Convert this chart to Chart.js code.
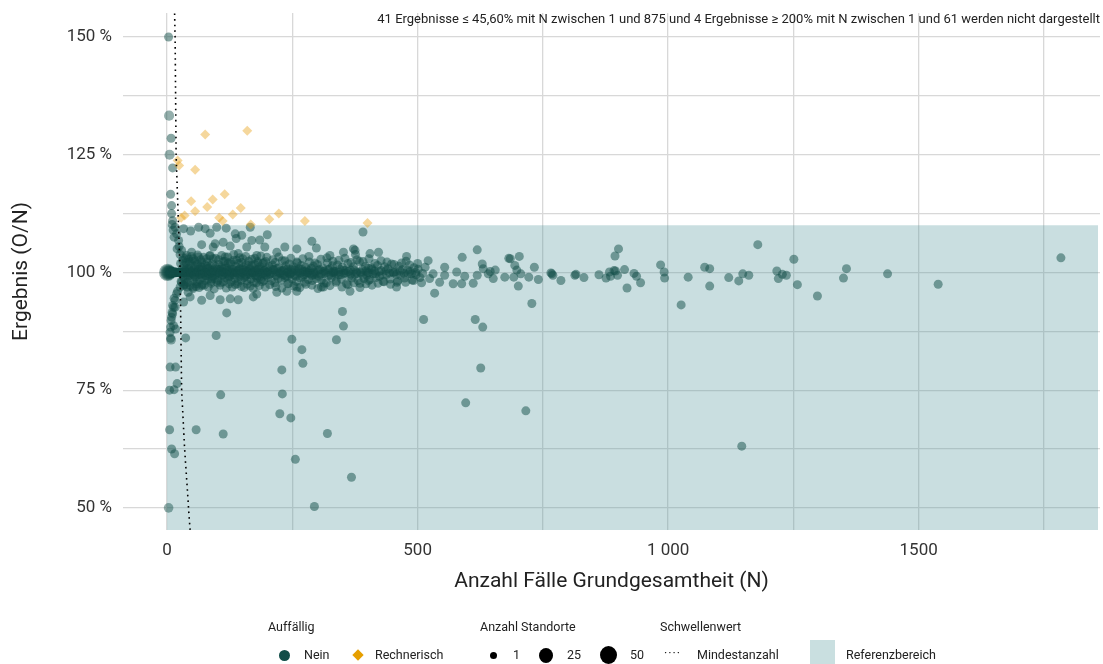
<!DOCTYPE html>
<html>
<head>
<meta charset="utf-8">
<script src="https://cdn.jsdelivr.net/npm/chart.js@4.4.1/dist/chart.umd.min.js"></script>
<style>
  body { margin: 0; background: #fff; }
  #wrap { position: relative; width: 1103px; height: 664px; font-family: Roboto, sans-serif; color: #222; }
  #wrap canvas { position: absolute; left: 0; top: 0; }
  .lg { position: absolute; font-size: 12.5px; line-height: 16px; white-space: nowrap; }
  .key { position: absolute; }
</style>
</head>
<body>
<div id="wrap">
  <canvas id="scatterChart" width="1103" height="664"></canvas>
  <div class="lg" style="left:268px; top:619px;">Auffällig</div>
  <div class="lg" style="left:480px; top:619px;">Anzahl Standorte</div>
  <div class="lg" style="left:660px; top:619px;">Schwellenwert</div>

  <div class="key" style="left:279px; top:650px; width:11px; height:11px; border-radius:50%; background:#114d48;"></div>
  <div class="lg" style="left:304px; top:647px;">Nein</div>
  <div class="key" style="left:354px; top:651px; width:8px; height:8px; background:#e69f00; transform:rotate(45deg);"></div>
  <div class="lg" style="left:375px; top:647px;">Rechnerisch</div>

  <div class="key" style="left:490px; top:652px; width:7px; height:7px; border-radius:50%; background:#000;"></div>
  <div class="lg" style="left:513px; top:647px;">1</div>
  <div class="key" style="left:539px; top:648px; width:14px; height:15px; border-radius:50%; background:#000;"></div>
  <div class="lg" style="left:567px; top:647px;">25</div>
  <div class="key" style="left:600px; top:646px; width:17px; height:18px; border-radius:50%; background:#000;"></div>
  <div class="lg" style="left:630px; top:647px;">50</div>

  <div class="lg" style="left:664px; top:645px; letter-spacing:1px;">····</div>
  <div class="lg" style="left:697px; top:647px;">Mindestanzahl</div>
  <div class="key" style="left:810px; top:640px; width:25px; height:24px; background:#c9dfe0;"></div>
  <div class="lg" style="left:846px; top:647px;">Referenzbereich</div>
</div>
<script>
var FONT = "Roboto, sans-serif";

// Referenzbereich: bis 110 %
var refN = [0, 1858];
var refMax = [110, 110];

// Mindestanzahl (Schwellenwert)
var mindestN = [15, 16, 18, 26, 29, 35, 41, 44, 46];
var mindestVal = [155, 150, 125, 100, 75, 62.5, 53, 48, 45.3];

// Standorte mit mehreren Standorten (N, Ergebnis, Anzahl Standorte)
var bigN = [1, 2, 3, 4, 5, 6, 7, 8, 9, 10, 11, 12, 13, 14, 15, 16, 17, 18, 19, 20, 4, 5, 3, 8];
var bigVal = [100, 100, 100, 100, 100, 100, 100, 100, 100, 100, 100, 100, 100, 100, 100, 100, 100, 100, 100, 100, 133.3, 125, 50, 85.7];
var bigStandorte = [38, 30, 24, 20, 16, 13, 11, 9, 8, 7, 6, 5, 5, 4, 4, 3, 3, 3, 2, 2, 6, 6, 4, 4];

// einzelne Standorte ausserhalb des dichten Bandes
var outlierPoints = [
  [3,150],[8,128.5],[11,122.2],[7,116.6],[9,114.2],[9,112.5],[11,111],[391,108.6],
  [119,91.4],[98,86.6],[37,86.1],[350,91.7],[352,88.6],[338,85.7],[249,85.8],[269,83.6],[271,80.7],
  [229,79.3],[230,74.2],[225,70.0],[247,69.1],[512,90.0],[615,90.0],[630,88.4],[626,79.7],[596,72.3],
  [716,70.6],[728,93.4],[107,74.0],[58,66.6],[112,65.7],[5,66.6],[320,65.8],[256,60.3],[368,56.5],
  [294,50.3],[9,62.5],[15,61.5],[6,79.9],[17,79.9],[5,75],[14,75.1],[20,76.4],[1147,63.1],
  [8,89.8],[11,91.2],[13,88.7],[6,87.3],[17,88],[16,92.6],
  [63,109.6],[76,109.3],[99,109.6],[118,109.4],[47,108.8],[33,109.3],[86,108.3],[136,108.2],[149,107.9],
  [166,109.6],[200,108],[185,106.9],[169,106.8],[138,107.2],[112,106.4],[96,106.1],[69,105.9],[92,105.4],
  [126,105.6],[159,105.4],[195,105.4],[235,105.4],[259,105],[289,106.6],[298,105.2],[219,104.3],[352,104.3],
  [372,105],[49,104.3],[142,104],[179,103.6],[325,103.6],[405,104],[422,104.3],[478,103.4],[63,103.3],
  [86,103.6],[116,103.3],[375,104.7],[376,103.8],
  [16,109.6],[19,108.2],[23,106.8],[24,105.5],[29,104.7],[39,103.6],[52,102.9],[69,102.2],[10,110.2],
  [12,109],[14,107.5],[20,105],[26,103.8],[33,103],[45,102.2],[60,101.7],[80,101.3],
  [33,93.7],[46,94.8],[69,94.1],[86,95.1],[106,94.2],[126,94.4],[142,94.2],[172,94.8],[179,95.4],
  [219,95.8],[239,96],[259,96.9],[312,96.9],[365,96],[385,97.7],[402,98.3],[534,95.6],[308,96.9],
  [259,96],[458,96.9],
  [29,97.9],[26,96.9],[19,95.5],[16,94.1],[13,92.6],[9,90.5],[7,88.4],[7,86],[42,95.8],[52,96.9],
  [69,97.2],[33,97.2],[10,91.5],[11,93],[14,94.5],[21,96],[36,97.5],[60,98.1],[90,98.6],
  [521,102.5],[531,99.7],[524,98.7],[544,97.9],[554,101.1],[554,99.4],[571,97.6],[578,100.1],[588,97.6],
  [589,103.2],[594,99.2],[611,97.7],[619,104.8],[619,99.4],[629,101.8],[631,100.8],[641,99.7],[645,100.2],
  [651,98.7],[655,100.5],[674,99],[682,103],[685,102.9],[694,101.5],[698,100.5],[703,103.4],[692,99],
  [701,97.1],[706,99.7],[722,99],[733,101.1],[741,98.5],[766,99.9],[768,99.7],[770,99.4],[786,98.3],
  [814,99.4],[816,99.6],[832,98.9],[862,99.5],[876,98.8],[883,100.1],[885,99.2],[892,100.4],[895,100.3],
  [899,99.4],[894,103.5],[901,105],[913,100.6],[918,96.7],[932,99.8],[937,99.2],[945,97.8],[985,101.6],
  [992,100.1],[993,98.8],
  [1026,93.1],[1040,99],[1073,101.1],[1083,100.8],[1083,97.1],[1121,98.9],[1141,98.2],[1149,99.7],
  [1161,99.4],[1179,105.9],[1217,100.3],[1220,98.7],[1228,99.6],[1236,99.4],[1251,102.8],[1258,97.4],
  [1298,95],[1350,98.8],[1356,100.8],[1438,99.7],[1539,97.5],[1784,103.1]
];

// dichtes Band um 100 %
var bandPoints = [
  [30,100.8],[32,99.1],[34,101.5],[35,98.6],[37,100.3],[38,102.1],[40,99.4],[41,97.9],[43,100.9],[44,101.8],
  [46,98.8],[47,100.2],[49,99.6],[50,102.4],[52,98.2],[53,100.6],[55,101.3],[56,99.0],[58,100.1],[59,97.6],
  [61,101.9],[62,99.5],[64,100.7],[65,98.4],[67,102.7],[68,99.8],[70,101.1],[71,98.9],[73,100.4],[74,97.3],
  [76,101.6],[77,99.3],[79,100.0],[80,102.2],[82,98.6],[83,100.9],[85,99.7],[86,101.4],[88,98.1],[89,100.5],
  [91,99.2],[92,102.9],[94,100.2],[95,98.7],[97,101.2],[98,99.6],[100,100.8],
  [101,98.3],[103,101.7],[104,99.9],[106,100.6],[107,97.8],[109,101.0],[110,99.4],[112,102.3],[113,100.1],
  [115,98.9],[116,101.5],[118,99.7],[119,100.9],[121,98.5],[122,102.0],[124,100.3],[125,99.1],[127,101.8],
  [128,98.0],[130,100.7],[131,99.5],[133,102.6],[134,100.0],[136,98.7],[137,101.3],[139,99.9],[140,97.6],
  [142,100.4],[143,101.9],[145,99.2],[146,100.8],[148,98.4],[149,102.1],[151,99.8],[152,101.1],[154,98.9],
  [155,100.5],[157,99.4],[158,101.6],[160,98.2],[161,100.2],[163,102.4],[164,99.6],[166,100.9],[167,98.6],
  [169,101.4],[170,99.9],[172,100.3],[173,97.9],[175,101.7],[176,99.3],[178,100.6],[179,98.8],[181,102.0],
  [182,100.1],[184,99.0],[185,101.2],[187,98.5],[188,100.7],[190,99.7],[191,101.9],[193,98.3],[194,100.4],
  [196,99.5],[197,102.3],[199,100.0],
  [201,98.9],[203,101.3],[205,99.6],[206,100.8],[208,98.2],[210,101.6],[211,99.9],[213,100.5],[215,97.8],
  [216,102.1],[218,99.3],[220,100.9],[222,98.7],[223,101.0],[225,99.8],[227,100.3],[228,98.4],[230,102.5],
  [232,99.5],[234,100.7],[235,98.9],[237,101.4],[239,99.2],[241,100.1],[243,97.7],[244,101.8],[246,99.7],
  [248,100.6],[250,98.6],[252,101.2],[254,99.4],[256,100.4],[258,98.1],[260,102.0],[262,99.9],[264,100.8],
  [266,98.8],[268,101.5],[270,99.1],[272,100.2],[274,97.9],[276,101.1],[278,99.6],[280,100.5],[282,98.5],
  [284,102.2],[286,99.8],[288,100.9],[290,98.3],[292,101.3],[294,99.5],[296,100.0],[298,98.7],
  [300,101.7],[303,99.2],[305,100.6],[308,98.4],[310,101.0],[313,99.7],[315,100.3],[318,97.8],[320,102.0],
  [323,99.4],[325,100.8],[328,98.9],[330,101.4],[333,99.9],[335,100.2],[338,98.2],[340,101.6],[343,99.5],
  [345,100.7],[348,98.6],[350,101.1],[353,99.8],[356,100.4],[358,97.6],[361,101.9],[364,99.3],[366,100.5],
  [369,98.8],[372,101.2],[375,99.6],[378,100.1],[381,98.3],[384,102.3],[387,99.9],[390,100.6],[393,98.7],
  [396,101.3],[399,99.4],[402,100.9],[405,98.5],[408,101.0],[411,99.7],[414,100.3],[417,98.9],
  [420,101.5],[424,99.2],[427,100.4],[431,98.1],[434,101.2],[438,99.6],[441,100.8],[445,98.6],[448,101.8],
  [452,99.9],[455,100.1],[459,97.9],[463,101.3],[466,99.4],[470,100.6],[474,98.8],[477,102.4],[481,99.7],
  [485,100.2],[489,98.4],[493,101.0],[497,99.5],[501,100.7],[505,98.9],[510,99.8],[515,101.1],
  [21,100],[22,100],[23,100],[24,100],[25,100],[26,100],[27,100],[28,100],[29,100],[31,100],[33,100],
  [36,100],[39,100],[42,100],[45,100],[48,100],[54,100],[60,100],[75,100],[90,100],[110,100],[130,100],
  [150,100],[170,100],[200,100],[240,100],[280,100],[330,100],[400,100],
  [31,99.7],[36,100.4],[39,100.9],[42,99.2],[45,100.5],[48,99.8],[51,100.3],[54,99.4],[57,100.7],[60,99.9],
  [63,100.2],[66,99.5],[69,100.6],[72,99.8],[75,100.1],[78,99.3],[81,100.8],[84,99.6],[87,100.3],[90,99.9],
  [93,100.5],[96,99.4],[99,100.0],[102,100.6],[105,99.7],[108,100.2],[111,99.5],[114,100.8],[117,99.9],
  [120,100.4],[123,99.3],[126,100.1],[129,99.8],[132,100.6],[135,99.4],[138,100.3],[141,99.9],[144,100.7],
  [147,99.6],[150,100.0],[153,100.5],[156,99.2],[159,100.2],[162,99.8],[165,100.6],[168,99.5],[171,100.1],
  [174,99.9],[177,100.4],[180,99.3],[183,100.7],[186,99.7],[189,100.2],[192,99.9],[195,100.5],[198,99.4],
  [202,100.3],[207,99.8],[212,100.6],[217,99.5],[221,100.1],[226,99.9],[231,100.4],[236,99.3],[240,100.7],
  [245,99.6],[249,100.0],[253,100.5],[257,99.2],[261,100.3],[265,99.8],[269,100.6],[273,99.5],[277,100.2],
  [281,99.9],[285,100.4],[289,99.4],[293,100.1],[297,99.7],[302,100.5],[307,99.6],[312,100.2],[317,99.9],
  [322,100.6],[327,99.4],[332,100.3],[337,99.8],[342,100.1],[347,99.5],[352,100.4],[357,99.9],[362,100.2],
  [367,99.6],[373,100.5],[379,99.8],[385,100.1],[391,99.4],[397,100.3],[403,99.9],[409,100.6],[416,99.7],
  [423,100.2],[430,99.5],[437,100.4],[444,99.9],[451,100.1],[458,99.6],[465,100.3],[473,99.8],[480,100.5],
  [488,99.7],[496,100.0]
];

// breiterer Saum des Bandes
var bandEdgePoints = [
  [27,101.9],[28,98.1],[31,102.6],[34,97.4],[37,103.1],[40,96.9],[43,102.8],[46,97.2],[49,103.4],[52,96.6],
  [55,102.5],[58,97.0],[61,103.7],[64,96.8],[67,101.4],[70,97.5],[73,103.2],[76,98.3],[79,102.9],[82,96.9],
  [85,103.5],[88,97.7],[91,101.8],[94,96.5],[97,103.0],[100,97.9],[103,102.7],[106,97.3],[109,103.6],[112,98.0],
  [115,102.4],[118,96.7],[121,103.3],[124,97.6],[127,102.2],[130,96.9],[133,103.8],[136,97.4],[139,102.6],[142,98.1],
  [145,103.1],[148,97.0],[151,102.9],[154,96.8],[157,103.4],[160,97.5],[163,101.6],[166,97.1],[169,102.8],[172,96.6],
  [175,103.0],[178,97.8],[181,102.3],[184,97.2],[187,103.5],[190,98.0],[193,102.1],[196,96.9],[199,103.2],[205,97.4],
  [211,102.7],[217,97.0],[223,103.3],[229,96.7],[235,102.5],[241,97.6],[247,103.0],[253,97.1],[259,102.2],[265,96.8],
  [271,102.9],[277,97.5],[283,103.4],[289,97.3],[295,102.0],[301,96.6],[307,102.8],[313,97.7],[319,103.1],[325,97.2],
  [331,102.4],[337,97.9],[343,102.6],[349,96.9],[355,103.0],[361,97.4],[367,102.1],[373,97.8],[379,102.7],[385,96.8],
  [391,102.3],[397,97.6],[403,102.9],[409,97.3],[415,101.9],[421,97.7],[427,102.5],[433,98.0],[439,102.2],[446,97.5],
  [453,101.7],[460,98.2],[468,102.0],[476,97.9],[484,101.6],[492,98.3],[500,101.9],[508,97.8]
];

// Rechnerisch auffällig
var rechnerischN = [76, 160, 21, 24, 56, 48, 91, 115, 56, 80, 147, 35, 28, 104, 111, 131, 167, 204, 223, 275, 400];
var rechnerischVal = [129.3, 130.1, 123.8, 122.7, 121.8, 115.1, 115.5, 116.6, 113.0, 113.9, 113.7, 112.1, 111.6, 111.6, 110.9, 112.3, 110.2, 111.3, 112.5, 110.9, 110.5];

// Achsen
var xTicks = [0, 250, 500, 750, 1000, 1250, 1500, 1750];
var xTickLabels = {0: "0", 500: "500", 1000: "1 000", 1500: "1500"};
var yTicks = [50, 62.5, 75, 87.5, 100, 112.5, 125, 137.5, 150];
var yTickLabels = {50: "50 %", 75: "75 %", 100: "100 %", 125: "125 %", 150: "150 %"};
var hinweis = "41 Ergebnisse ≤ 45,60% mit N zwischen 1 und 875 und 4 Ergebnisse ≥ 200% mit N zwischen 1 und 61 werden nicht dargestellt";

function pairsToXY(list) {
  return list.map(function (p) { return {x: p[0], y: p[1]}; });
}
function zip(xs, ys) {
  return xs.map(function (x, i) { return {x: x, y: ys[i]}; });
}

var neinData = pairsToXY(bandPoints).concat(pairsToXY(bandEdgePoints), pairsToXY(outlierPoints));
var bigData = zip(bigN, bigVal);

var hinweisPlugin = {
  id: "hinweis",
  afterDatasetsDraw: function (chart) {
    var ctx = chart.ctx;
    ctx.save();
    ctx.font = "13px " + FONT;
    ctx.fillStyle = "#222";
    ctx.textAlign = "right";
    ctx.textBaseline = "middle";
    ctx.fillText(hinweis, chart.chartArea.right, 20);
    ctx.restore();
  }
};

var canvasElement = document.getElementById("scatterChart");
var config = {
  type: "scatter",
  data: {
    datasets: [
      {
        label: "Nein (mehrere Standorte)",
        data: bigData,
        backgroundColor: "rgba(17,77,72,0.45)",
        borderWidth: 0,
        pointRadius: function (c) { return 4.5 + 0.11 * (bigStandorte[c.dataIndex] - 1); },
        order: 3
      },
      {
        label: "Nein",
        data: neinData,
        backgroundColor: "rgba(17,77,72,0.5)",
        borderWidth: 0,
        pointRadius: 4.5,
        order: 2
      },
      {
        label: "Rechnerisch",
        data: zip(rechnerischN, rechnerischVal),
        pointStyle: "rectRot",
        backgroundColor: "rgba(232,160,20,0.42)",
        borderWidth: 0,
        pointRadius: 5,
        order: 1
      },
      {
        type: "line",
        label: "Mindestanzahl",
        data: zip(mindestN, mindestVal),
        borderColor: "#000",
        borderWidth: 1.6,
        borderDash: [1.6, 4],
        pointRadius: 0,
        fill: false,
        order: 0
      },
      {
        type: "line",
        label: "Referenzbereich",
        data: zip(refN, refMax),
        borderWidth: 0,
        pointRadius: 0,
        fill: "start",
        backgroundColor: "rgba(75,145,152,0.3)",
        order: 10
      }
    ]
  },
  options: {
    responsive: false,
    animation: false,
    layout: {autoPadding: false, padding: {left: 0, right: 3, top: 13, bottom: 64}},
    plugins: {legend: {display: false}, tooltip: {enabled: false}},
    scales: {
      x: {
        type: "linear",
        min: -88,
        max: 1862,
        border: {display: false},
        grid: {color: "#d8d8d8", lineWidth: 1.3, drawTicks: false},
        afterBuildTicks: function (s) { s.ticks = xTicks.map(function (v) { return {value: v}; }); },
        ticks: {
          padding: 11,
          color: "#333",
          font: {family: FONT, size: 17},
          maxRotation: 0,
          autoSkip: false,
          callback: function (v) { return xTickLabels[v] || ""; }
        },
        title: {display: true, text: "Anzahl Fälle Grundgesamtheit (N)", color: "#222", font: {family: FONT, size: 21}, padding: {top: 4, bottom: 6}},
        afterFit: function (s) { s.height = 70; s.paddingLeft = 0; s.paddingRight = 0; }
      },
      y: {
        type: "linear",
        min: 45.3,
        max: 155.1,
        border: {display: false},
        grid: {color: "#d8d8d8", lineWidth: 1.3, drawTicks: false},
        afterBuildTicks: function (s) { s.ticks = yTicks.map(function (v) { return {value: v}; }); },
        ticks: {
          padding: 11,
          color: "#333",
          font: {family: FONT, size: 17},
          autoSkip: false,
          callback: function (v) { return yTickLabels[v] || ""; }
        },
        title: {display: true, text: "Ergebnis (O/N)", color: "#222", font: {family: FONT, size: 21}, padding: {top: 9, bottom: 0}},
        afterFit: function (s) { s.width = 123; s.paddingTop = 0; s.paddingBottom = 0; }
      }
    }
  },
  plugins: [hinweisPlugin]
};

var scatterChart = new Chart(canvasElement, config);
</script>
</body>
</html>
